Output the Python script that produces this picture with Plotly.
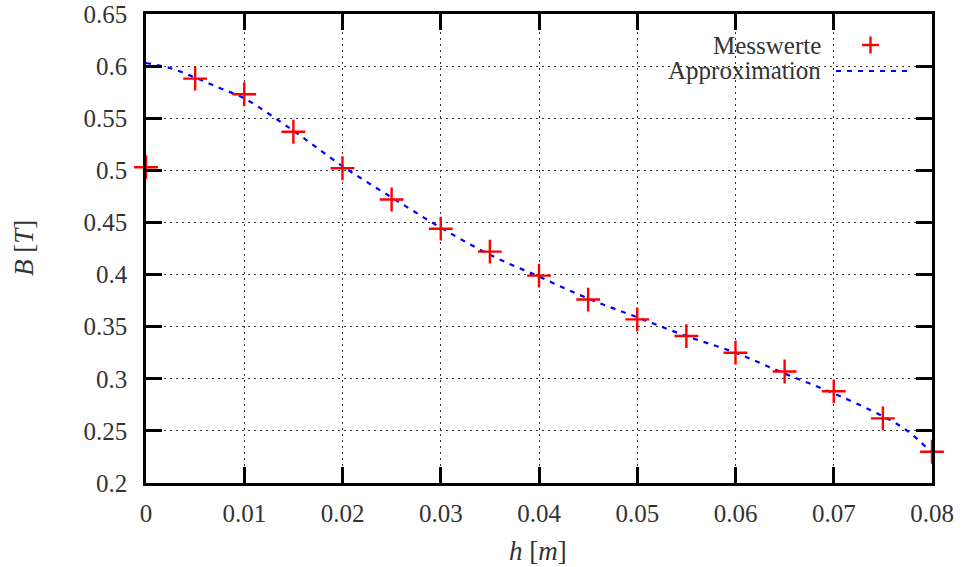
import plotly.graph_objects as go

# Measured field strength B [T] over height h [m]
h_mess = [0.0, 0.005, 0.01, 0.015, 0.02, 0.025, 0.03, 0.035, 0.04,
          0.045, 0.05, 0.055, 0.06, 0.065, 0.07, 0.075, 0.08]
b_mess = [0.503, 0.588, 0.573, 0.537, 0.502, 0.472, 0.444, 0.422, 0.399,
          0.376, 0.357, 0.341, 0.325, 0.307, 0.288, 0.262, 0.230]

# Fitted approximation curve, sampled
h_fit = [0.0, 0.0025, 0.005, 0.0075, 0.01, 0.015, 0.02, 0.025, 0.03, 0.035,
         0.04, 0.045, 0.05, 0.055, 0.06, 0.065, 0.07, 0.075, 0.0775, 0.08]
b_fit = [0.603, 0.598, 0.589, 0.579, 0.569, 0.538, 0.504, 0.474, 0.445, 0.419,
         0.398, 0.377, 0.359, 0.341, 0.325, 0.305, 0.286, 0.264, 0.250, 0.229]

x_ticks = [0, 0.01, 0.02, 0.03, 0.04, 0.05, 0.06, 0.07, 0.08]
x_labels = ["0", "0.01", "0.02", "0.03", "0.04", "0.05", "0.06", "0.07", "0.08"]
y_ticks = [0.2, 0.25, 0.3, 0.35, 0.4, 0.45, 0.5, 0.55, 0.6, 0.65]
y_labels = ["0.2", "0.25", "0.3", "0.35", "0.4", "0.45", "0.5", "0.55", "0.6", "0.65"]

W, H = 964, 567
ML, MR, MT, MB = 146, 32, 14, 84
PW, PH = W - ML - MR, H - MT - MB

FONT = "Liberation Serif"
FS = 25
FS_TITLE = 27
FS_KEY = 25
RED = "#ff0000"
BLUE = "#0000ff"

fig = go.Figure()

fig.add_trace(go.Scatter(
    x=h_fit, y=b_fit, mode="lines", line_shape="spline",
    line=dict(color=BLUE, width=2.2, dash="5px,6px"),
    showlegend=False, cliponaxis=False,
))
fig.add_trace(go.Scatter(
    x=h_mess, y=b_mess, mode="markers",
    marker=dict(symbol="cross-thin", size=17, line=dict(color=RED, width=2.4)),
    showlegend=False, cliponaxis=False,
))

axis_common = dict(
    showline=True, linecolor="black", linewidth=2.5, mirror="ticks",
    ticks="inside", ticklen=16, tickwidth=2.5, tickcolor="black",
    showgrid=True, gridcolor="#333333", gridwidth=1, griddash="2px,4px",
    zeroline=False, automargin=False, layer="above traces",
    tickfont=dict(family=FONT, size=FS, color="#333333"),
)

fig.update_xaxes(
    range=[0, 0.08], tickvals=x_ticks, ticktext=x_labels,
    ticklabelstandoff=6, **axis_common,
)
fig.update_yaxes(
    range=[0.2, 0.65], tickvals=y_ticks, ticktext=y_labels,
    ticklabelstandoff=11, **axis_common,
)


def px_x(p):
    return (p - ML) / PW


def px_y(p):
    return (H - MB - p) / PH


annotations = [
    dict(text="<i>h</i> [<i>m</i>]", x=px_x(538), y=px_y(551), xref="paper", yref="paper",
         showarrow=False, xanchor="center", yanchor="middle",
         font=dict(family=FONT, size=FS_TITLE, color="#333333")),
    dict(text="<i>B</i> [<i>T</i>]", x=px_x(24), y=px_y(248), xref="paper", yref="paper",
         showarrow=False, xanchor="center", yanchor="middle", textangle=-90,
         font=dict(family=FONT, size=FS_TITLE, color="#333333")),
    dict(text="Messwerte", x=px_x(823), y=px_y(45), xref="paper", yref="paper",
         showarrow=False, xanchor="right", yanchor="middle",
         font=dict(family=FONT, size=FS_KEY, color="#333333")),
    dict(text="Approximation", x=px_x(823), y=px_y(71), xref="paper", yref="paper",
         showarrow=False, xanchor="right", yanchor="middle",
         font=dict(family=FONT, size=FS_KEY, color="#333333")),
]

shapes = [
    dict(type="line", xref="paper", yref="paper",
         x0=px_x(862), x1=px_x(879), y0=px_y(45), y1=px_y(45),
         line=dict(color=RED, width=2.4)),
    dict(type="line", xref="paper", yref="paper",
         x0=px_x(870.5), x1=px_x(870.5), y0=px_y(36.5), y1=px_y(53.5),
         line=dict(color=RED, width=2.4)),
    dict(type="line", xref="paper", yref="paper",
         x0=px_x(836), x1=px_x(907), y0=px_y(71), y1=px_y(71),
         line=dict(color=BLUE, width=2.2, dash="5px,6px")),
]

fig.update_layout(
    width=W, height=H,
    margin=dict(l=ML, r=MR, t=MT, b=MB, autoexpand=False),
    paper_bgcolor="white", plot_bgcolor="white",
    annotations=annotations, shapes=shapes,
    showlegend=False,
)

fig.write_html("out.html")
